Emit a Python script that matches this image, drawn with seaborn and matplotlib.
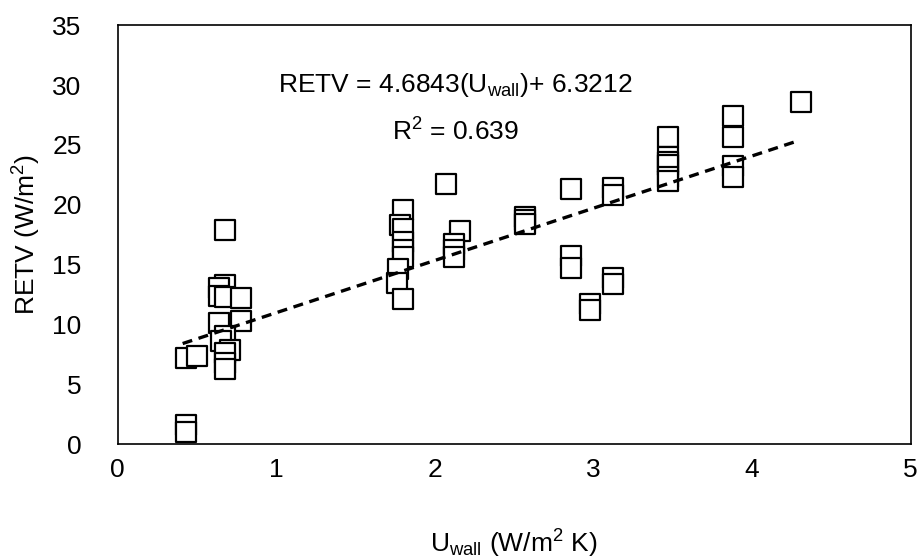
import matplotlib
matplotlib.use("Agg")
import matplotlib.pyplot as plt
import seaborn as sns
import pandas as pd
from matplotlib import font_manager

# ---- data ----
u_wall = [0.43, 0.43, 0.43, 0.50,
          0.68, 0.675, 0.64, 0.64, 0.675, 0.78,
          0.64, 0.78, 0.68, 0.65, 0.71, 0.68, 0.68, 0.68,
          1.80, 1.78, 1.80, 1.80, 1.80, 1.80, 1.77, 1.76, 1.80,
          2.07, 2.16, 2.12, 2.12, 2.12,
          2.57, 2.57, 2.57,
          2.86, 2.86, 2.86,
          3.12, 3.12, 3.12, 3.12,
          2.98, 2.98,
          3.47, 3.47, 3.47, 3.47, 3.47, 3.47,
          3.88, 3.88, 3.88, 3.88,
          4.31]
retv = [1.6, 1.0, 7.2, 7.4,
        17.9, 13.3, 13.0, 12.4, 12.3, 12.2,
        10.1, 10.3, 9.0, 8.6, 7.9, 7.6, 6.8, 6.3,
        19.6, 18.3, 18.0, 16.9, 16.2, 15.6, 14.6, 13.5, 12.1,
        21.7, 17.8, 16.7, 16.2, 15.6,
        19.0, 18.7, 18.4,
        21.3, 15.7, 14.7,
        21.4, 20.8, 13.9, 13.4,
        11.7, 11.2,
        25.7, 24.0, 23.6, 23.3, 22.3, 22.0,
        27.4, 25.7, 23.2, 22.3,
        28.6]
trend_x = [0.41, 4.28]
trend_y = [8.4, 25.3]
x_ticks = [0, 1, 2, 3, 4, 5]
y_ticks = [0, 5, 10, 15, 20, 25, 30, 35]
equation = r"RETV = 4.6843(U$_{\mathrm{wall}}$)+ 6.3212"
r2_text = r"R$^{2}$ = 0.639"

sns.set_style("white")
names = {f.name for f in font_manager.fontManager.ttflist}
fam = "Liberation Sans Narrow" if "Liberation Sans Narrow" in names else "Liberation Sans"
plt.rcParams["font.family"] = [fam, "DejaVu Sans"]
plt.rcParams["mathtext.fontset"] = "custom"
plt.rcParams["mathtext.rm"] = fam
plt.rcParams["mathtext.it"] = fam
plt.rcParams["text.color"] = "black"
plt.rcParams["axes.labelcolor"] = "black"
plt.rcParams["xtick.color"] = "black"
plt.rcParams["ytick.color"] = "black"

df = pd.DataFrame({"U": u_wall, "RETV": retv})

fig = plt.figure(figsize=(9.19, 5.6), dpi=100)
ax = fig.add_axes([0.128, 0.207, 0.863, 0.748])

sns.scatterplot(data=df, x="U", y="RETV", ax=ax, marker="s", s=190,
                facecolor="white", edgecolor="black", linewidth=1.6,
                zorder=2, legend=False)
sns.lineplot(x=trend_x, y=trend_y, ax=ax, color="black", linewidth=2.4,
             linestyle=(0, (3, 2)), zorder=3)

ax.set_xlim(0, 5)
ax.set_ylim(0, 35)
ax.set_xticks(x_ticks)
ax.set_yticks(y_ticks)
ax.tick_params(axis="both", length=0, labelsize=19)
ax.tick_params(axis="y", pad=26)
ax.tick_params(axis="x", pad=10)
for s in ax.spines.values():
    s.set_visible(True)
    s.set_color("black")
    s.set_linewidth(1.2)

ax.set_xlabel(r"U$_{\mathrm{wall}}$ (W/m$^{2}$ K)", fontsize=19, va="top")
ax.set_ylabel(r"RETV (W/m$^{2}$)", fontsize=19)
ax.xaxis.set_label_coords(0.5, -0.2)
ax.yaxis.set_label_coords(-0.094, 0.5)

ax.text(2.13, 30.0, equation, fontsize=19, ha="center", va="center")
ax.text(2.13, 26.1, r2_text, fontsize=19, ha="center", va="center")

fig.savefig("out.png", dpi=100)
